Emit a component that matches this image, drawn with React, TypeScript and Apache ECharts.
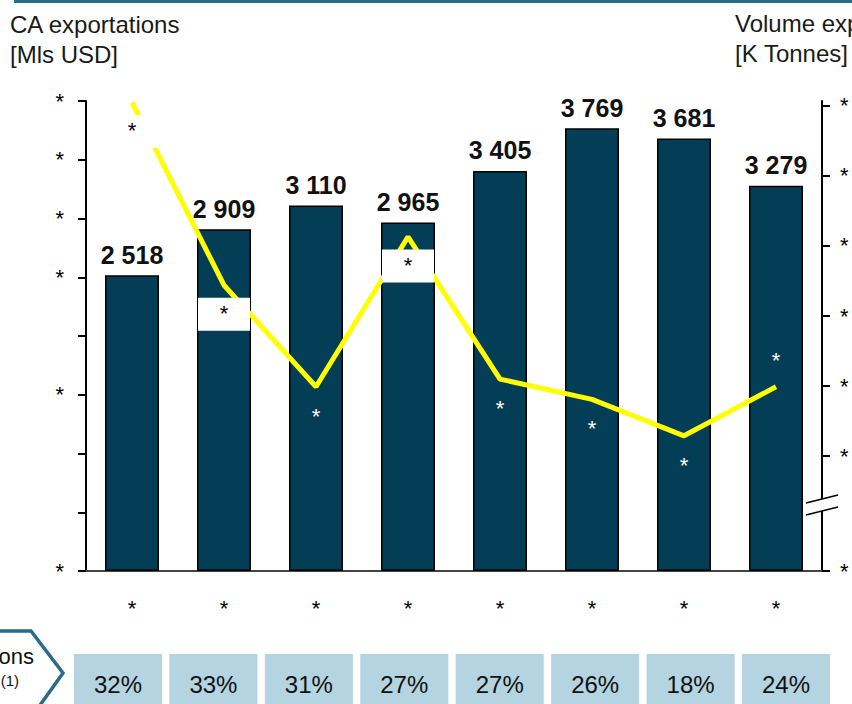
import React, { useEffect, useRef } from "react";
import * as echarts from "echarts";

// ---- data ----
const categories = ["1", "2", "3", "4", "5", "6", "7", "8"];
const xTickLabels = ["*", "*", "*", "*", "*", "*", "*", "*"];
const exportRevenue = [2518, 2909, 3110, 2965, 3405, 3769, 3681, 3279]; // Mls USD
const exportVolume = [1105, 844, 699, 913, 710, 681, 629, 699]; // K Tonnes (axis units)
const shares = ["32%", "33%", "31%", "27%", "27%", "26%", "18%", "24%"];
const leftLabelledTicks = [0, 1500, 2500, 3000, 3500, 4000];
const rightTicks = [436, 600, 700, 800, 900, 1000, 1100];
const boxedPoints = [0, 1, 3];
const abovePoints = [7];

const FONT = "Arial, 'Liberation Sans', Helvetica, sans-serif";
const BAR = "#033E56";
const TEAL = "#2A6A8A";
const STAR = 22;

const fmtThousands = (v: number) =>
  String(v).replace(/\B(?=(\d{3})+(?!\d))/g, " ");

export default function App() {
  const ref = useRef<HTMLDivElement>(null);

  useEffect(() => {
    if (!ref.current) return;
    const chart = echarts.init(ref.current, undefined, { renderer: "svg" });

    const boxedLabel = {
      show: true,
      position: "bottom",
      distance: 12,
      formatter: () => "*",
      color: "#000",
      fontFamily: FONT,
      fontSize: STAR,
      lineHeight: STAR,
      backgroundColor: "#ffffff",
      width: 52,
      height: 28,
      padding: [5, 0, 0, 0],
      align: "center",
    };
    const belowLabel = {
      show: true,
      position: "bottom",
      distance: 18,
      formatter: () => "*",
      color: "#ffffff",
      fontFamily: FONT,
      fontSize: STAR,
      lineHeight: STAR,
    };
    const aboveLabel = {
      show: true,
      position: "top",
      distance: 15,
      formatter: () => "*",
      color: "#ffffff",
      fontFamily: FONT,
      fontSize: STAR,
      lineHeight: STAR,
    };

    const volumeData = exportVolume.map((v, i) => ({
      value: v,
      label: boxedPoints.includes(i)
        ? boxedLabel
        : abovePoints.includes(i)
        ? aboveLabel
        : belowLabel,
    }));

    const boxX0 = 74;
    const boxStep = 95.43;
    const boxW = 88;
    const shareGraphics: any[] = [];
    shares.forEach((s, i) => {
      const x = boxX0 + i * boxStep;
      shareGraphics.push({
        type: "rect",
        shape: { x, y: 654, width: boxW, height: 60 },
        style: { fill: "#B3D4E0" },
      });
      shareGraphics.push({
        type: "text",
        x: x + boxW / 2,
        y: 684,
        style: {
          text: s,
          fill: "#111",
          font: `24px ${FONT}`,
          textAlign: "center",
          textVerticalAlign: "middle",
        },
      });
    });

    const titleStyle = (text: string, x: number, y: number) => ({
      type: "text",
      x,
      y,
      style: {
        text,
        fill: "#1a1a1a",
        font: `24px ${FONT}`,
        textAlign: "left",
        textVerticalAlign: "middle",
      },
    });

    chart.setOption({
      animation: false,
      backgroundColor: "#ffffff",
      grid: { left: 86, right: 30, top: 101, bottom: 133, containLabel: false },
      xAxis: {
        type: "category",
        data: categories,
        boundaryGap: true,
        axisLine: { lineStyle: { color: "#444", width: 2 } },
        axisTick: { show: false },
        axisLabel: {
          formatter: (_v: string, i: number) => xTickLabels[i],
          color: "#000",
          fontFamily: FONT,
          fontSize: STAR,
          margin: 26,
        },
      },
      yAxis: [
        {
          type: "value",
          min: 0,
          max: 4000,
          interval: 500,
          position: "left",
          splitLine: { show: false },
          axisLine: { show: true, lineStyle: { color: "#000", width: 2 } },
          axisTick: { show: true, length: 8, lineStyle: { color: "#000", width: 2 } },
          axisLabel: {
            formatter: (v: number) => (leftLabelledTicks.includes(v) ? "*" : ""),
            color: "#000",
            fontFamily: FONT,
            fontSize: STAR,
            margin: 22,
          },
        },
        {
          type: "value",
          min: 436,
          max: 1107,
          position: "right",
          splitLine: { show: false },
          axisLine: { show: true, lineStyle: { color: "#000", width: 2 } },
          axisTick: {
            show: true,
            length: 8,
            customValues: rightTicks,
            lineStyle: { color: "#000", width: 2 },
          },
          axisLabel: {
            customValues: rightTicks,
            formatter: () => "*",
            color: "#000",
            fontFamily: FONT,
            fontSize: STAR,
            margin: 18,
          },
        },
      ],
      series: [
        {
          type: "bar",
          data: exportRevenue,
          yAxisIndex: 0,
          barWidth: 54,
          itemStyle: { color: BAR, borderColor: "#000", borderWidth: 1.5 },
          label: {
            show: true,
            position: "top",
            distance: 8,
            formatter: (p: any) => fmtThousands(p.value),
            color: "#111",
            fontFamily: FONT,
            fontWeight: "bold",
            fontSize: 25,
          },
        },
        {
          type: "line",
          data: volumeData,
          yAxisIndex: 1,
          symbol: "circle",
          symbolSize: 1,
          showSymbol: true,
          itemStyle: { color: "rgba(0,0,0,0)" },
          lineStyle: { color: "#FFFF00", width: 5 },
          z: 5,
        },
      ],
      graphic: [
        {
          type: "rect",
          shape: { x: 14, y: 0, width: 838, height: 3 },
          style: { fill: TEAL },
        },
        titleStyle("CA exportations", 10, 24),
        titleStyle("[Mls USD]", 10, 54),
        titleStyle("Volume exportations", 735, 23),
        titleStyle("[K Tonnes]", 735, 53),
        // axis break marks
        {
          type: "polygon",
          z: 100,
          shape: { points: [[806, 503], [838, 495], [838, 507], [806, 515]] },
          style: { fill: "#ffffff" },
        },
        {
          type: "line",
          z: 101,
          shape: { x1: 806, y1: 503, x2: 838, y2: 495 },
          style: { stroke: "#000", lineWidth: 1.5 },
        },
        {
          type: "line",
          z: 101,
          shape: { x1: 806, y1: 515, x2: 838, y2: 507 },
          style: { stroke: "#000", lineWidth: 1.5 },
        },
        // chevron
        {
          type: "polyline",
          shape: { points: [[-5, 631], [31, 631], [63, 673], [38, 708]] },
          style: { stroke: TEAL, lineWidth: 3.5, fill: null, lineJoin: "miter" },
        },
        {
          type: "text",
          x: 34,
          y: 656,
          style: {
            text: "ons",
            fill: "#111",
            font: `22px ${FONT}`,
            textAlign: "right",
            textVerticalAlign: "middle",
          },
        },
        {
          type: "text",
          x: 19,
          y: 680,
          style: {
            text: "(1)",
            fill: "#111",
            font: `15px ${FONT}`,
            textAlign: "right",
            textVerticalAlign: "middle",
          },
        },
        ...shareGraphics,
      ],
    });

    return () => chart.dispose();
  }, []);

  return (
    <div
      ref={ref}
      style={{ position: "fixed", left: 0, top: 0, width: 852, height: 704 }}
    />
  );
}
